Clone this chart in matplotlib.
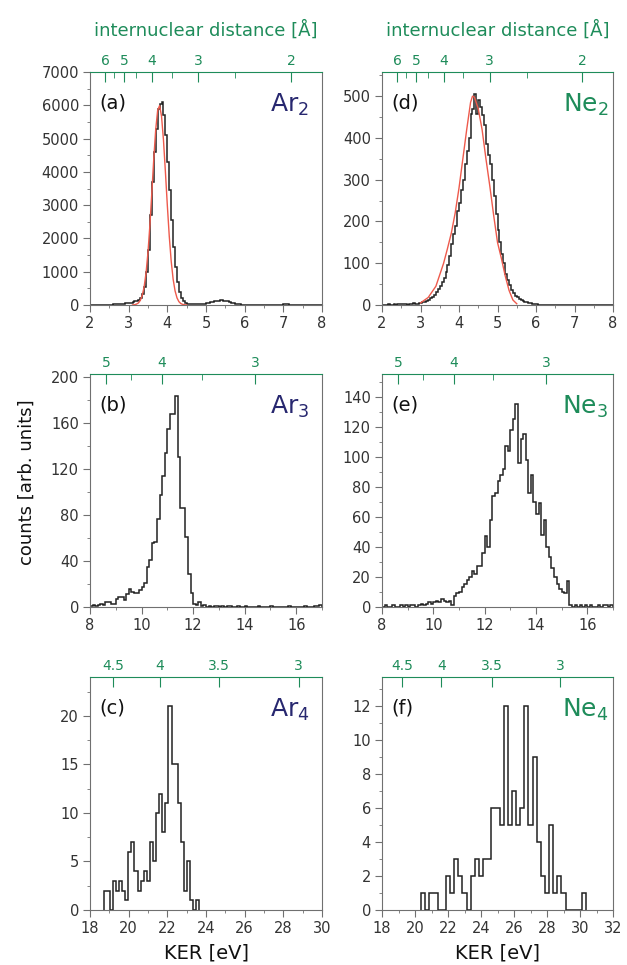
import numpy as np
import matplotlib
matplotlib.use('Agg')
import matplotlib.pyplot as plt
from matplotlib.ticker import MultipleLocator

plt.rcParams['font.family'] = ['DejaVu Sans']
plt.rcParams['mathtext.default'] = 'regular'

green = '#1e8c5a'
navy = '#27276f'
histc = '#222222'
fitc = '#ee5a4c'
axc = '#707070'
tickc = '#333333'

# ---- data (counts per bin) ----
# Ar2: bins of 0.05 eV starting at 2.0
ar2_start, ar2_w = 2.0, 0.05
ar2_counts = [5, 5, 5, 5, 5, 5, 10, 10, 10, 10,
              15, 15, 20, 20, 25, 30, 35, 40, 50, 60,
              60, 75, 90, 110, 130, 160, 200, 320, 550, 1000,
              1650, 2700, 3700, 4600, 5300, 5900, 6050, 6100, 5700, 5100,
              4300, 3450, 2550, 1750, 1150, 700, 400, 220, 120, 70,
              45, 30, 25, 20, 20, 20, 25, 30, 35, 45,
              55, 70, 85, 100, 115, 125, 135, 140, 140, 135,
              125, 110, 95, 75, 55, 40, 30, 20, 15, 10,
              8, 6, 5, 5, 5, 5, 5, 5, 5, 5,
              5, 5, 5, 5, 5, 5, 8, 10, 12, 15,
              18, 20, 18, 15, 12, 10, 8, 5, 5, 5,
              5, 5, 5, 5, 5, 5, 5, 5, 5, 5]
ar2_fit_x = [3.10, 3.15, 3.20, 3.25, 3.30, 3.35, 3.40, 3.45, 3.50, 3.55,
             3.60, 3.65, 3.70, 3.75, 3.80, 3.85, 3.90, 3.95, 4.00, 4.05,
             4.10, 4.15, 4.20, 4.25, 4.30, 4.35, 4.40, 4.45, 4.50]
ar2_fit_y = [3, 9, 25, 60, 136, 283, 544, 968, 1592, 2417,
             3393, 4405, 5280, 5850, 5990, 5670, 4957, 4005, 2991, 2064,
             1316, 776, 423, 213, 99, 42, 17, 6, 2]

# Ne2: bins of 0.05 eV starting at 2.0
ne2_start, ne2_w = 2.0, 0.05
ne2_counts = [0, 1, 0, 2, 1, 0, 2, 1, 3, 2,
              2, 3, 2, 1, 3, 2, 4, 3, 3, 4,
              5, 6, 8, 10, 13, 16, 20, 25, 30, 38,
              46, 55, 64, 78, 96, 118, 146, 170, 190, 225,
              245, 275, 300, 338, 370, 400, 458, 470, 506, 458,
              490, 474, 455, 430, 386, 360, 338, 300, 260, 218,
              180, 150, 122, 100, 74, 60, 48, 36, 28, 22,
              18, 15, 12, 10, 8, 6, 5, 4, 3, 2,
              2, 1, 1, 0, 1, 0, 0, 1, 0, 0,
              0, 1, 0, 0, 0, 1, 0, 0, 0, 0,
              1, 0, 0, 0, 0, 0, 1, 0, 0, 0,
              0, 0, 0, 1, 0, 0, 0, 0, 0, 0]
ne2_fit_x = [3.0, 3.2, 3.4, 3.6, 3.7, 3.8, 3.9, 4.0, 4.1, 4.2, 4.3, 4.35,
             4.4, 4.5, 4.6, 4.7, 4.8, 4.9, 5.0, 5.1, 5.2, 5.3, 5.4, 5.5]
ne2_fit_y = [5, 18, 45, 100, 135, 172, 220, 280, 350, 420, 485, 500,
             498, 470, 420, 350, 285, 215, 150, 112, 70, 35, 12, 3]

# Ar3: bins of 0.1 eV starting at 8.0
ar3_start, ar3_w = 8.0, 0.1
ar3_counts = [1, 2, 1, 2, 3, 2, 4, 4, 3, 3,
              7, 9, 9, 6, 11, 16, 13, 12, 12, 15,
              17, 21, 35, 41, 56, 57, 77, 98, 114, 134,
              155, 168, 168, 184, 131, 86, 86, 61, 29, 12,
              3, 2, 4, 1, 2, 0, 1, 0, 1, 1,
              0, 1, 0, 1, 1, 0, 0, 1, 0, 0,
              1, 0, 0, 0, 0, 1, 0, 0, 0, 0,
              1, 0, 0, 0, 0, 0, 0, 1, 0, 0,
              0, 0, 0, 1, 0, 0, 0, 1, 1, 2]

# Ne3: bins of 0.1 eV starting at 8.0
ne3_start, ne3_w = 8.0, 0.1
ne3_counts = [0, 1, 0, 0, 1, 0, 0, 1, 0, 1,
              0, 1, 1, 0, 1, 2, 1, 2, 3, 2,
              3, 4, 3, 5, 4, 3, 4, 1, 7, 9,
              10, 13, 15, 18, 20, 24, 22, 27, 27, 36,
              47, 40, 58, 74, 76, 84, 88, 92, 107, 104,
              118, 125, 135, 96, 112, 115, 98, 76, 88, 70,
              62, 69, 48, 58, 40, 33, 26, 20, 15, 12,
              10, 9, 17, 1, 0, 1, 0, 1, 0, 1,
              0, 1, 0, 0, 1, 0, 1, 1, 0, 1]

# Ar4: bins of 0.16 eV starting at 18.70
ar4_start, ar4_w = 18.70, 0.16
ar4_counts = [2, 2, 0, 3, 2, 3, 2, 1, 6, 7, 4, 2, 3, 4, 3, 7,
              5, 10, 12, 8, 11, 21, 15, 15, 11, 7, 2, 5, 1, 0, 1]

# Ne4: bins of 0.25 eV starting at 20.375
ne4_start, ne4_w = 20.375, 0.25
ne4_counts = [1, 0, 1, 1, 0, 0, 2, 1, 3, 2, 1, 0, 2, 3, 2, 3, 3, 6, 6, 5,
              12, 5, 7, 5, 6, 12, 5, 9, 4, 2, 1, 5, 1, 2, 1, 0, 0, 0, 0, 1]

# internuclear distance axis: KER = c / R
c_dimer, c_trimer, c_tetramer = 14.4, 43.2, 86.4
r_dimer_major, r_dimer_minor = [6, 5, 4, 3, 2], [5.5, 4.5, 3.5, 2.5]
r_trimer_major, r_trimer_minor = [5, 4, 3], [4.5, 3.5]
r_tetra_major = [4.5, 4, 3.5, 3]

W, H = 627, 965
fig = plt.figure(figsize=(W / 100, H / 100), dpi=100)


def rect(x0, x1, y0, y1):
    return [x0 / W, 1 - y1 / H, (x1 - x0) / W, (y1 - y0) / H]


def panel(r, start, width, counts, xlim, ylim, xmaj, xmin, ymaj, ymin,
          c, rmaj, rmin, tag, name, ncol, nx, fit=None, title=False, xlabel=False):
    ax = fig.add_axes(r)
    edges = start + width * np.arange(len(counts) + 1)
    ax.stairs(counts, edges, color=histc, lw=1.1, baseline=0)
    if fit is not None:
        ax.plot(fit[0], fit[1], color=fitc, lw=1.0)
    ax.set_xlim(xlim)
    ax.set_ylim(ylim)
    ax.xaxis.set_major_locator(MultipleLocator(xmaj))
    ax.xaxis.set_minor_locator(MultipleLocator(xmin))
    ax.yaxis.set_major_locator(MultipleLocator(ymaj))
    ax.yaxis.set_minor_locator(MultipleLocator(ymin))
    ax.tick_params(which='both', direction='out', colors=axc, labelcolor=tickc,
                   labelsize=10.5, top=False, right=False)
    ax.tick_params(which='major', length=5, pad=3)
    ax.tick_params(which='minor', length=2.5)
    for s in ax.spines.values():
        s.set_color(axc)
        s.set_linewidth(0.8)
    ax.spines['top'].set_visible(False)

    top = ax.twiny()
    top.set_xlim(xlim)
    top.set_xticks([c / v for v in rmaj])
    top.set_xticklabels([f'{v:g}' for v in rmaj])
    top.set_xticks([c / v for v in rmin], minor=True)
    top.tick_params(axis='x', which='both', direction='in', colors=green,
                    labelsize=10, pad=3)
    top.tick_params(axis='x', which='major', length=7)
    top.tick_params(axis='x', which='minor', length=4)
    for k in ['left', 'right', 'bottom']:
        top.spines[k].set_visible(False)
    top.spines['top'].set_color(green)
    top.spines['top'].set_linewidth(0.8)
    if title:
        top.set_xlabel('internuclear distance [Å]', color=green, fontsize=13, labelpad=13)

    ax.text(0.04, 0.865, tag, transform=ax.transAxes, fontsize=14,
            ha='left', va='center', color='#111111')
    ax.text(nx, 0.83, name, transform=ax.transAxes, fontsize=18,
            ha='right', va='baseline', color=ncol)
    if xlabel:
        ax.set_xlabel('KER [eV]', fontsize=14, color='#111111', labelpad=5)
    return ax


panel(rect(90, 322, 72, 305), ar2_start, ar2_w, ar2_counts, (2, 8), (0, 7000),
      1, 0.5, 1000, 500, c_dimer, r_dimer_major, r_dimer_minor,
      '(a)', r'Ar$_2$', navy, 0.945, fit=(ar2_fit_x, ar2_fit_y), title=True)
panel(rect(382, 613, 72, 305), ne2_start, ne2_w, ne2_counts, (2, 8), (0, 558),
      1, 0.5, 100, 50, c_dimer, r_dimer_major, r_dimer_minor,
      '(d)', r'Ne$_2$', green, 0.98, fit=(ne2_fit_x, ne2_fit_y), title=True)
panel(rect(90, 322, 374, 607), ar3_start, ar3_w, ar3_counts, (8, 17), (0, 203),
      2, 1, 40, 20, c_trimer, r_trimer_major, r_trimer_minor,
      '(b)', r'Ar$_3$', navy, 0.945)
panel(rect(382, 613, 374, 607), ne3_start, ne3_w, ne3_counts, (8, 17), (0, 155),
      2, 1, 20, 10, c_trimer, r_trimer_major, r_trimer_minor,
      '(e)', r'Ne$_3$', green, 0.98)
panel(rect(90, 322, 677, 910), ar4_start, ar4_w, ar4_counts, (18, 30), (0, 24),
      2, 1, 5, 2.5, c_tetramer, r_tetra_major, [],
      '(c)', r'Ar$_4$', navy, 0.945, xlabel=True)
panel(rect(382, 613, 677, 910), ne4_start, ne4_w, ne4_counts, (18, 32), (0, 13.7),
      2, 1, 2, 1, c_tetramer, r_tetra_major, [],
      '(f)', r'Ne$_4$', green, 0.98, xlabel=True)

fig.text(27 / W, 1 - 482 / H, 'counts [arb. units]', rotation=90, fontsize=13,
         ha='center', va='center', color='#111111')

fig.savefig('out.png', dpi=100)
